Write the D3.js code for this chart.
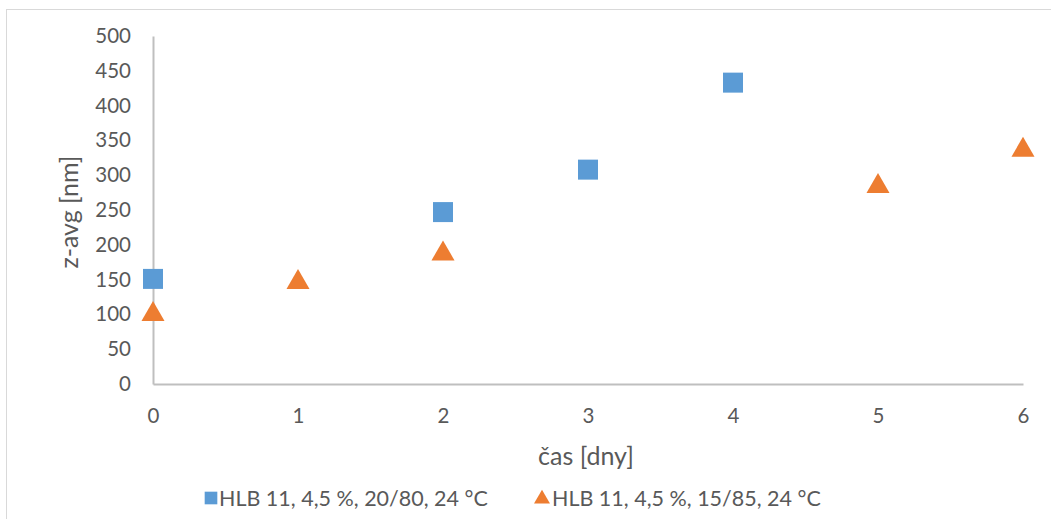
<!DOCTYPE html>
<html><head><meta charset="utf-8">
<script src="https://cdn.jsdelivr.net/npm/d3@7"></script>
<style>body{margin:0;background:#fff;} svg{display:block;}</style>
</head><body>
<svg id="c" width="1051" height="519"></svg>
<script>
const xDays1 = [0, 2, 3, 4];
const zavg1 = [151, 247, 308, 433];
const xDays2 = [0, 1, 2, 5, 6];
const zavg2 = [103, 149, 190, 287, 339];
const seriesNames = ["HLB 11, 4,5 %, 20/80, 24 °C", "HLB 11, 4,5 %, 15/85, 24 °C"];
const xTicks = [0, 1, 2, 3, 4, 5, 6];
const yTicks = [0, 50, 100, 150, 200, 250, 300, 350, 400, 450, 500];
const xTitle = "čas [dny]";
const yTitle = "z-avg [nm]";

const font = "Lato, 'Open Sans', sans-serif";
const txt = "#595959";
const svg = d3.select("#c");
svg.append("rect").attr("x",6.5).attr("y",9.5).attr("width",1050).attr("height",520)
  .attr("fill","#fff").attr("stroke","#d9d9d9");

const x = d3.scaleLinear().domain([0,6]).range([153,1023]);
const y = d3.scaleLinear().domain([0,500]).range([384,36]);

const yAx = svg.append("g").attr("transform","translate(153,0)")
  .call(d3.axisLeft(y).tickValues(yTicks).tickSize(0).tickPadding(22));
yAx.select(".domain").attr("stroke","#bfbfbf").attr("stroke-width",2);
yAx.selectAll("text").attr("font-family",font).attr("font-size",20.5).attr("fill",txt);

const xAx = svg.append("g").attr("transform","translate(0,384)")
  .call(d3.axisBottom(x).tickValues(xTicks).tickSize(0).tickPadding(24).tickFormat(d3.format("d")));
xAx.select(".domain").attr("stroke","#bfbfbf").attr("stroke-width",2);
xAx.selectAll("text").attr("font-family",font).attr("font-size",20.5).attr("fill",txt);

svg.append("text").attr("x",586).attr("y",465).attr("text-anchor","middle")
  .attr("font-family",font).attr("font-size",25).attr("fill",txt).text(xTitle);
svg.append("text").attr("transform","translate(78,212) rotate(-90)").attr("text-anchor","middle")
  .attr("font-family",font).attr("font-size",25).attr("fill",txt).text(yTitle);

const sq = d3.symbol().type(d3.symbolSquare).size(400);
const tri = d3.symbol().type(d3.symbolTriangle).size(230);

svg.append("g").selectAll("path").data(xDays1.map((d,i)=>[d,zavg1[i]])).join("path")
  .attr("d",sq).attr("transform",d=>`translate(${x(d[0])},${y(d[1])})`).attr("fill","#5b9bd5");
svg.append("g").selectAll("path").data(xDays2.map((d,i)=>[d,zavg2[i]])).join("path")
  .attr("d",tri).attr("transform",d=>`translate(${x(d[0])},${y(d[1])+2})`).attr("fill","#ed7d31");

// legend
const lg = svg.append("g");
lg.append("path").attr("d",d3.symbol().type(d3.symbolSquare).size(160))
  .attr("transform","translate(211,498)").attr("fill","#5b9bd5");
lg.append("text").attr("x",219).attr("y",506).attr("font-family",font).attr("font-size",21.5)
  .attr("fill",txt).text(seriesNames[0]);
lg.append("path").attr("d",d3.symbol().type(d3.symbolTriangle).size(110))
  .attr("transform","translate(542,499)").attr("fill","#ed7d31");
lg.append("text").attr("x",552).attr("y",506).attr("font-family",font).attr("font-size",21.5)
  .attr("fill",txt).text(seriesNames[1]);
</script>
</body></html>
